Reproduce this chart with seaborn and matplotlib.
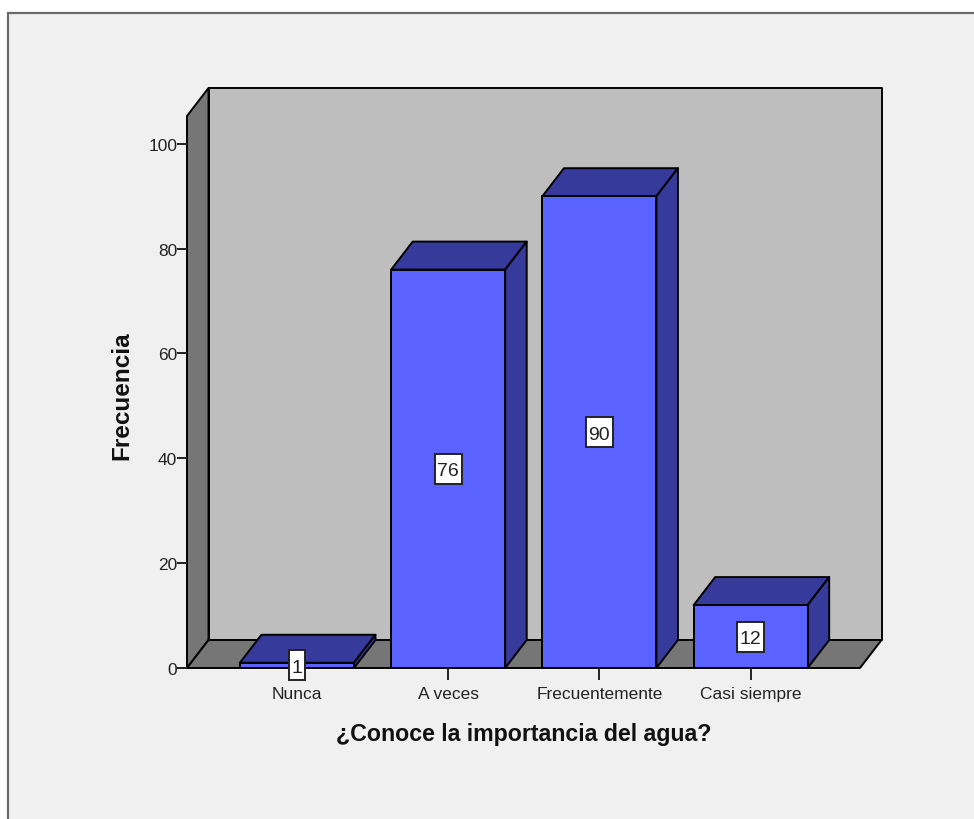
import matplotlib
matplotlib.use("Agg")
import matplotlib.pyplot as plt
import pandas as pd
import seaborn as sns
from matplotlib.patches import Polygon, Rectangle
from matplotlib.path import Path

# --- Datos ---
categorias = ['Nunca', 'A veces', 'Frecuentemente', 'Casi siempre']
frecuencias = [1, 76, 90, 12]
y_ticks = [0, 20, 40, 60, 80, 100]

# --- Estilo ---
COLOR_PANEL = '#f0f0f0'
COLOR_FONDO = '#bebebe'
COLOR_PARED = '#767676'
COLOR_BARRA = '#5a62ff'
COLOR_SOMBRA = '#363b9b'
LW = 1.4

sns.set_theme(style='white')
plt.rcParams['font.family'] = ['Liberation Sans', 'DejaVu Sans']

W, H = 974, 820
fig = plt.figure(figsize=(W / 100, H / 100), dpi=100, facecolor='white')
fig.add_artist(Rectangle((8 / W, -0.1), 1, 1.1 - 13.5 / H, transform=fig.transFigure,
                         facecolor=COLOR_PANEL, edgecolor='#6a6a6a', linewidth=1.6, zorder=-1))

# el plano frontal del grafico va de x=187 a x=860 y de y=117 a y=669 (pixeles)
ax = fig.add_axes([187 / W, 1 - 669 / H, (860 - 187) / W, (669 - 117) / H])
ax.patch.set_alpha(0)

df = pd.DataFrame({'categoria': categorias, 'frecuencia': frecuencias})
ancho = 0.754
sns.barplot(data=df, x='categoria', y='frecuencia', ax=ax, color=COLOR_BARRA,
            saturation=1, width=ancho, edgecolor='black', linewidth=LW, zorder=3)

x_min, x_max = -0.727, 3.723
y_max = 105.3
ax.set_xlim(x_min, x_max)
ax.set_ylim(0, y_max)

# profundidad del efecto 3D, en unidades de datos
dx = 21.5 / 151.2
dy = 28 / (552 / y_max)


def cara(puntos, color, z):
    ax.add_patch(Polygon(puntos, closed=True, facecolor=color, edgecolor='black',
                         linewidth=LW, joinstyle='round', clip_on=False, zorder=z))


def caja_etiqueta(x0, y0, width, height, mutation_size):
    # caja estrecha y alta, como en el original (margenes en pixeles)
    mx, abajo, arriba = 2.5, 4.5, 8.5
    return Path([(x0 - mx, y0 - abajo), (x0 + width + mx, y0 - abajo), (x0 + width + mx, y0 + height + arriba),
                 (x0 - mx, y0 + height + arriba), (x0 - mx, y0 - abajo)], closed=True)


# Paredes y suelo
cara([(x_min + dx, dy), (x_max + dx, dy), (x_max + dx, y_max + dy), (x_min + dx, y_max + dy)],
     COLOR_FONDO, 1)
cara([(x_min, 0), (x_min + dx, dy), (x_min + dx, y_max + dy), (x_min, y_max)], COLOR_PARED, 1.1)
cara([(x_min, 0), (x_max, 0), (x_max + dx, dy), (x_min + dx, dy)], COLOR_PARED, 1.1)

# Caras superior y lateral de cada barra, y etiqueta del valor
for i, valor in enumerate(frecuencias):
    izq, der = i - ancho / 2, i + ancho / 2
    cara([(izq, valor), (der, valor), (der + dx, valor + dy), (izq + dx, valor + dy)], COLOR_SOMBRA, 2.9)
    cara([(der, 0), (der + dx, dy), (der + dx, valor + dy), (der, valor)], COLOR_SOMBRA, 2.9)
    etiqueta = ax.text(i, valor / 2, str(valor), ha='center', va='center_baseline', fontsize=14,
                       color='#222222', zorder=5, clip_on=False,
                       bbox=dict(facecolor='white', edgecolor='#222222', linewidth=LW))
    etiqueta.get_bbox_patch().set_boxstyle(caja_etiqueta)

# Ejes
sns.despine(ax=ax, left=True, bottom=True, top=True, right=True)
ax.set_yticks(y_ticks)
ax.tick_params(axis='y', left=True, length=7, width=LW, pad=0, labelsize=12.5,
               color='#222222', labelcolor='#222222')
ax.tick_params(axis='x', bottom=True, length=8.6, width=LW, pad=4.5, labelsize=12.5,
               color='#222222', labelcolor='#222222')
for t in ax.xaxis.get_major_ticks() + ax.yaxis.get_major_ticks():
    t.tick1line.set_zorder(4)
ax.set_axisbelow(False)
ax.set_xlabel('¿Conoce la importancia del agua?', fontsize=16.7, fontweight='bold',
              color='#111111', labelpad=15)
ax.set_ylabel('Frecuencia', fontsize=17.5, fontweight='bold', color='#111111', labelpad=11, y=0.495)

fig.savefig('out.png', dpi=100, facecolor=fig.get_facecolor())
